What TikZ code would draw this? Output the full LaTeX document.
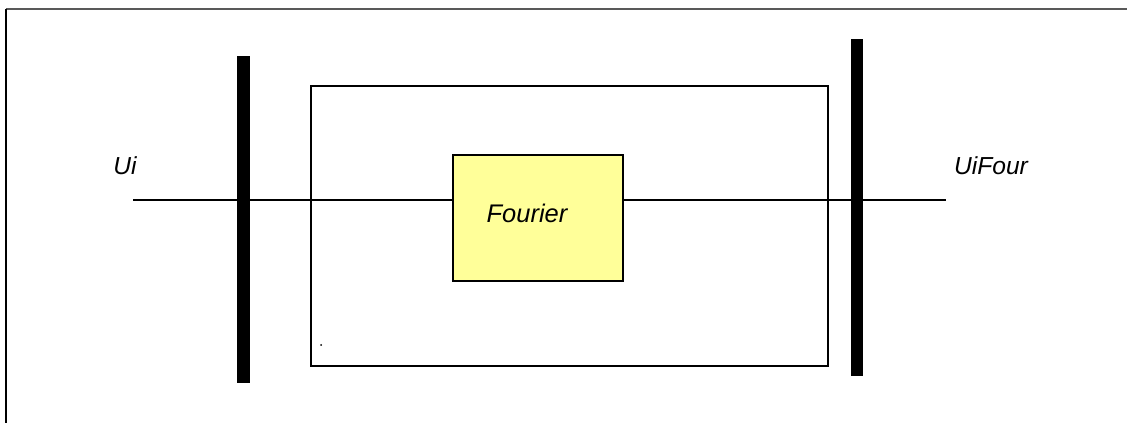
\documentclass[tikz,border=0pt]{standalone}
\usepackage{fontspec}
\setmainfont{Liberation Sans}
\usepackage{tikz}
\usetikzlibrary{positioning,calc}

\begin{document}
\begin{tikzpicture}[
    bar/.style={fill=black, draw=none, inner sep=0pt},
    blk/.style={draw, line width=1.1pt, fill={rgb,255:red,255;green,255;blue,153}, minimum width=3.4cm, minimum height=2.52cm, inner sep=0pt},
    sig/.style={line width=1.1pt},
    lbl/.style={font=\fontsize{14}{16}\selectfont\itshape, inner sep=0pt}
]
\useasboundingbox (0,0) rectangle (22.54,8.46);
% frame
\draw[gray!70!black, line width=0.7pt] (0.12,8.28) -- (22.54,8.28);
\draw[line width=1.1pt] (0.12,8.28) -- (0.12,0);

% outer block
\node[draw, line width=0.8pt, minimum width=10.34cm, minimum height=5.6cm, inner sep=0pt] (outer) at (11.39,3.94) {};
\fill (6.42,1.56) circle (0.02);

% fourier block
\node[blk] (four) at (10.76,4.10) {};
\node[lbl, font=\fontsize{14.5}{16}\selectfont\itshape] (fourlbl) at (10.54,4.2) {Fourier};

% signal
\coordinate (in) at (2.66,4.46);
\coordinate (out) at (18.92,4.46);
\draw[sig] (in) -- (in -| four.west);
\draw[sig] (four.east |- out) -- (out);

% bus bars
\node[bar, minimum width=0.26cm, minimum height=6.54cm] (lbar) at (4.87,4.07) {};
\node[bar, minimum width=0.24cm, minimum height=6.74cm] (rbar) at (17.14,4.31) {};

% labels
\node[lbl] (ui) at (2.50,5.14) {Ui};
\node[lbl] (uifour) at (19.82,5.14) {UiFour};
\end{tikzpicture}
\end{document}
